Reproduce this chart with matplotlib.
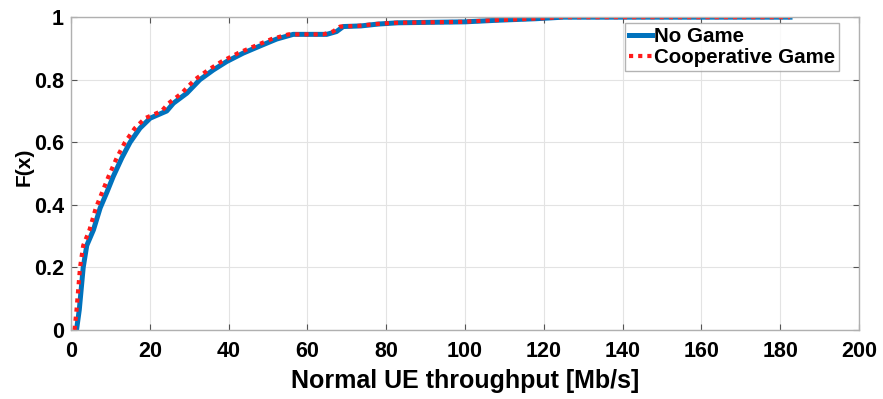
import matplotlib
matplotlib.use("Agg")
import matplotlib.pyplot as plt

plt.rcParams['font.family'] = ['Liberation Sans', 'DejaVu Sans']
plt.rcParams['font.weight'] = 'bold'

# Empirical CDF of normal-UE throughput (Mb/s)
cdf_levels = [0.0, 0.064, 0.20, 0.27, 0.32, 0.39, 0.44, 0.49, 0.55, 0.60,
              0.645, 0.677, 0.70, 0.725, 0.757, 0.80, 0.831, 0.858, 0.885,
              0.908, 0.93, 0.945, 0.945, 0.954, 0.97, 0.972, 0.978, 0.982,
              0.985, 0.99, 0.995, 1.0, 1.0]
no_game_tput = [1.4, 2.1, 3.1, 4.0, 5.7, 7.4, 9.1, 10.7, 12.9, 15.0,
                17.5, 20.1, 24.3, 26.0, 29.4, 32.7, 36.1, 39.5, 43.7,
                48.0, 52.2, 56.4, 64.9, 67.4, 69.1, 73.6, 78.0, 83.0,
                100.0, 108.0, 118.0, 125.0, 182.5]
coop_game_tput = [0.9, 1.4, 2.3, 3.1, 4.7, 6.3, 7.9, 9.5, 11.6, 13.7,
                  16.2, 18.8, 23.0, 24.8, 28.1, 31.4, 34.8, 38.2, 42.4,
                  46.7, 50.9, 55.2, 64.0, 66.5, 68.3, 72.8, 77.2, 82.2,
                  99.2, 107.2, 117.2, 124.2, 182.5]

x_ticks = [0, 20, 40, 60, 80, 100, 120, 140, 160, 180, 200]
y_ticks = [0, 0.2, 0.4, 0.6, 0.8, 1]
y_tick_labels = ['0', '0.2', '0.4', '0.6', '0.8', '1']

fig = plt.figure(figsize=(8.83, 3.99), dpi=100)
ax = fig.add_axes([0.0804, 0.173, 0.8924, 0.784])

ax.plot(no_game_tput, cdf_levels, color='#0072BD', lw=3.6,
        solid_joinstyle='round', label='No Game')
ax.plot(coop_game_tput, cdf_levels, color='#FF1A1A', lw=3.0,
        linestyle=(0, (1, 1.2)), dash_capstyle='butt', label='Cooperative Game')

ax.set_xlim(0, 200)
ax.set_ylim(0, 1)
ax.set_xticks(x_ticks)
ax.set_yticks(y_ticks)
ax.set_yticklabels(y_tick_labels)
ax.tick_params(direction='in', length=4, width=0.8, color='#555555',
               top=True, right=True)
ax.tick_params(axis='x', labelsize=15.5, pad=8)
ax.tick_params(axis='y', labelsize=15.5, pad=5)
for lbl in ax.get_xticklabels() + ax.get_yticklabels():
    lbl.set_fontweight('bold')
ax.grid(True, color='#e3e3e3', lw=0.8)
ax.set_axisbelow(True)
for sp in ax.spines.values():
    sp.set_color('#b0b0b0')
    sp.set_linewidth(1.0)

ax.set_xlabel('Normal UE throughput [Mb/s]', fontsize=18, fontweight='bold', labelpad=5)
ax.set_ylabel('F(x)', fontsize=15, fontweight='bold')
ax.yaxis.set_label_coords(-0.047, 0.52)

leg = ax.legend(loc='upper right', bbox_to_anchor=(0.9746, 0.981),
                fontsize=14.8, frameon=True, fancybox=False, handlelength=1.1,
                handletextpad=0.1, borderpad=0.2, labelspacing=0.1,
                borderaxespad=0.0)
leg.get_frame().set_edgecolor('#a0a0a0')
leg.get_frame().set_linewidth(1.0)
for t in leg.get_texts():
    t.set_fontweight('bold')

fig.savefig('out.png', dpi=100)
